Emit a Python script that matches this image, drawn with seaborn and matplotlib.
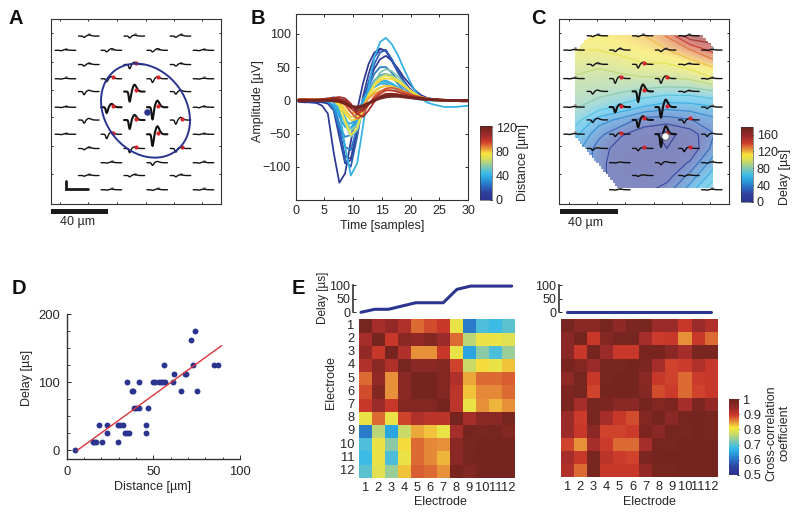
"""
Spike waveform footprint, delay map and cross-correlation panels (A-E)
"""
import numpy as np
import matplotlib; matplotlib.use("Agg")
import matplotlib.pyplot as plt
from matplotlib.cm import ScalarMappable
from matplotlib.colors import LinearSegmentedColormap, Normalize
from matplotlib.patches import Ellipse, Polygon
import seaborn as sns

W, H = 800, 513
INK = "#262626"
NAVY = "#2b3590"

# ---- electrode layout (um), row by row
elec_x = [27.7, 59.8, 92.3,
          11.25, 43.6, 75.9, 108.5,
          27.7, 59.8, 92.3,
          11.25, 43.6, 75.9, 108.5,
          27.7, 59.8, 92.3,
          11.25, 43.6, 75.9, 108.5,
          27.7, 59.8, 92.3,
          11.25, 43.6, 75.9, 108.5,
          27.7, 59.8, 92.3,
          43.6, 75.9, 108.5,
          27.7, 59.8, 92.3,
          43.6, 75.9, 108.5]
elec_y = [12, 12, 12,
          22, 22, 22, 22,
          32, 32, 32,
          42, 42, 42, 42,
          51, 51, 51,
          62, 62, 62, 62,
          71, 71, 71,
          81, 81, 81, 81,
          91, 91, 91,
          101, 101, 101,
          110, 110, 110,
          120, 120, 120]
elec_red = [0, 0, 0,
            0, 0, 0, 0,
            0, 1, 0,
            0, 1, 1, 0,
            0, 1, 0,
            0, 1, 1, 0,
            0, 1, 1,
            0, 1, 1, 0,
            0, 1, 1,
            0, 0, 0,
            0, 0, 0,
            0, 0, 0]

# ---- panel A amplitudes (uV)
a_trough = [12, 18, 12, 4, 15, 15, 4, 15, 40, 15, 3, 28, 35, 3, 30, 95, 25, 3, 55, 115, 5,
            30, 85, 40, 3, 42, 110, 3, 12, 40, 35, 3, 25, 4, 6, 12, 12, 3, 6, 3]
a_peak = [10, 8, 12, 8, 15, 15, 8, 12, 22, 12, 5, 22, 18, 5, 12, 65, 12, 6, 32, 62, 8,
          15, 48, 25, 5, 20, 75, 5, 12, 15, 10, 8, 12, 8, 8, 10, 8, 6, 8, 6]

# ---- panel C amplitudes (uV), nan = no trace drawn
c_trough = [8, 8, 6, 3, 15, 15, 3, 15, 35, 6, 3, 45, 45, 5, 25, 100, 8, 3, 50, 100, 15,
            25, 70, 30, 3, 22, 120, 22, 18, 22, 30, 3, 20, 5, np.nan, 8, 8, 3, np.nan, 3]
c_peak = [8, 6, 8, 5, 15, 12, 6, 12, 18, 8, 5, 20, 25, 6, 12, 65, 8, 5, 25, 70, 8,
          15, 35, 12, 5, 12, 75, 8, 5, 8, 12, 6, 10, 8, np.nan, 6, 6, 6, np.nan, 6]

trough_shape = [0, 0, 0, 0, 0, .03, .25, .8, 1, .75, .3, .03, 0, 0, 0,
                0, 0, 0, 0, 0, 0, 0, 0, 0, 0, 0, 0, 0, 0, 0]
peak_shape = [0, 0, 0, 0, 0, 0, 0, 0, 0, 0, 0, .15, .45, .75, .95,
              1, .9, .72, .52, .35, .22, .12, .06, .03, .01, 0, 0, 0, 0, 0]
sample_t = [.5, 1.5, 2.6, 3.6, 4.6, 5.6, 6.6, 7.6, 8.6, 9.6, 10.7, 11.7, 12.7, 13.7, 14.7,
            15.7, 16.7, 17.8, 18.8, 19.8, 20.8, 21.8, 22.8, 23.9, 24.9, 25.9, 26.9, 27.9, 28.9, 30]

# ---- panel B waveforms, (distance um, samples uV)
b_curves = [
    (3, [-2, -3, -3, -4, -8, -20, -78, -124, -110, -62, -15, 25, 55, 72, 78, 74, 60, 42, 28, 18, 10, 5, 2, 0, 0, 0, 0, 0, 0, 0]),
    (12, [-2, -2, -3, -3, -3, -5, -15, -55, -95, -90, -45, 5, 40, 65, 77, 75, 62, 45, 30, 18, 10, 5, 2, 0, 0, -1, -1, -1, 0, 0]),
    (6, [0, -1, -1, -2, -2, -3, -10, -45, -85, -88, -45, 0, 25, 48, 62, 67, 60, 48, 35, 25, 15, 8, 4, 2, 1, 0, 0, 0, 0, 0]),
    (20, [1, 0, 0, -1, -1, -2, -12, -45, -90, -100, -55, -5, 28, 55, 72, 76, 62, 44, 28, 16, 8, 3, 1, 0, 0, 0, 0, 0, 0, 0]),
    (26, [1, 0, 0, -1, -1, -2, -8, -35, -70, -75, -40, -5, 20, 40, 50, 50, 42, 30, 20, 12, 6, 3, 1, 0, 0, 0, 0, 0, 0, 0]),
    (30, [0, 0, 0, -1, -1, -2, -12, -40, -55, -52, -30, 0, 15, 30, 38, 40, 35, 25, 15, 9, 5, 2, 1, 0, 0, 0, 0, 0, 0, 0]),
    (40, [0, 0, -1, -1, -1, 2, 3, -15, -70, -113, -95, -40, 20, 65, 88, 94, 85, 68, 48, 30, 14, 3, -3, -6, -8, -10, -10, -10, -9, -8]),
    (36, [0, 0, 0, 0, 0, -1, -8, -25, -40, -42, -25, 2, 15, 24, 28, 28, 24, 18, 12, 7, 4, 2, 1, 0, 0, 0, 0, 0, 0, 0]),
    (38, [0, 0, 0, 0, 1, 3, -3, -20, -32, -35, -25, -3, 12, 20, 25, 25, 20, 14, 9, 5, 2, 1, 0, 0, 0, 0, 0, 0, 0, 0]),
    (42, [1, 1, 0, 0, 1, 2, 5, -5, -25, -45, -32, -8, 10, 22, 30, 30, 26, 20, 14, 8, 4, 2, 0, 0, 0, 0, 0, 0, 0, 0]),
    (54, [1, 1, 0, 0, 0, 1, 0, -10, -35, -55, -45, -15, 10, 28, 42, 47, 44, 36, 26, 16, 9, 4, 2, 0, -1, -1, -1, 0, 0, 0]),
    (58, [1, 1, 1, 0, 0, 1, 0, -8, -30, -45, -38, -12, 8, 24, 36, 40, 38, 31, 22, 14, 8, 4, 1, 0, -1, -1, 0, 0, 0, 0]),
    (70, [1, 1, 1, 1, 1, 1, 1, -4, -18, -30, -28, -10, 5, 15, 20, 22, 21, 17, 12, 8, 5, 2, 1, 0, 0, 0, 0, 0, 0, 0]),
    (76, [2, 2, 1, 1, 1, 1, 0, -8, -32, -52, -42, -15, 8, 24, 33, 37, 35, 30, 23, 16, 10, 5, 3, 1, 0, 0, 0, 0, 0, 0]),
    (78, [2, 2, 1, 1, 1, 1, 0, -5, -20, -30, -28, -10, 8, 22, 30, 33, 32, 28, 22, 15, 9, 5, 3, 1, 0, 0, 0, 0, 0, 0]),
    (80, [2, 2, 2, 1, 1, 1, 1, -3, -14, -25, -24, -10, 4, 13, 19, 22, 21, 18, 14, 10, 7, 4, 2, 1, 0, 0, 0, 0, 0, 0]),
    (84, [2, 2, 2, 2, 1, 1, 1, 0, -8, -18, -20, -8, 3, 10, 14, 16, 15, 13, 10, 8, 5, 3, 2, 1, 0, 0, 0, 0, 0, 0]),
    (92, [2, 2, 1, 1, 1, 1, 1, 0, -5, -18, -28, -22, -6, 6, 13, 18, 19, 17, 13, 10, 7, 5, 3, 2, 1, 1, 0, 0, 0, 0]),
    (100, [1, 1, 1, 1, 1, 1, 2, 2, -3, -12, -20, -16, -5, 3, 10, 15, 15, 13, 10, 8, 6, 4, 2, 1, 1, 0, 0, 0, 0, 0]),
    (105, [1, 1, 1, 1, 2, 3, 4, 5, 3, -5, -20, -25, -15, -2, 6, 10, 10, 9, 7, 5, 4, 3, 2, 1, 1, 1, 0, 0, 0, 0]),
    (112, [1, 1, 1, 1, 1, 1, 2, 2, 0, -8, -16, -14, -6, 1, 6, 9, 10, 9, 7, 5, 4, 3, 2, 1, 1, 0, 0, 0, 0, 0]),
    (118, [0, 0, 0, 0, 0, 0, 0, -1, -4, -9, -12, -10, -5, 0, 4, 7, 8, 7, 6, 5, 4, 3, 2, 1, 1, 0, 0, 0, 0, 0]),
    (120, [-1, -1, 0, 0, 0, 0, -1, -2, -5, -9, -10, -8, -4, 0, 3, 5, 6, 6, 5, 4, 3, 2, 1, 1, 0, 0, 0, 0, -1, -1]),
]

# ---- panel C delay map (us), on electrode columns and rows
map_x = [11.25, 27.7, 43.6, 59.8, 75.9, 92.3, 108.5]
map_y = [12, 22, 32, 42, 51, 62, 71, 81, 91, 101, 110, 120]
delay_map = [[112, 113, 116, 118, 132, 165, 165],
             [106, 106, 110, 114, 118, 130, 148],
             [98, 95, 100, 105, 105, 112, 122],
             [92, 90, 90, 92, 92, 95, 105],
             [85, 85, 82, 78, 75, 75, 80],
             [82, 75, 65, 55, 48, 50, 55],
             [75, 50, 40, 25, 25, 30, 40],
             [60, 35, 20, 12, 2, 12, 30],
             [50, 25, 12, 8, 6, 8, 35],
             [50, 22, 12, 8, 8, 20, 50],
             [50, 22, 12, 8, 12, 35, 62],
             [50, 25, 14, 14, 25, 50, 80]]
map_corners = [(11.25, 22), (21, 11.5), (100, 11.5), (108.7, 21), (108.7, 119), (42.5, 119), (11.25, 82)]

# ---- panel D
d_dist = [5, 15, 16, 17, 20.5, 29.5, 23, 33.5, 35, 36, 46, 18.5, 23, 29.5, 30.5, 32.5, 45.5,
          39, 40, 42, 47, 37.5, 38.5, 66, 75, 35, 42, 50, 51, 53, 54.5, 55.5, 56.5, 61.5,
          62, 68, 69, 56, 73, 85, 87.5, 71.5, 74]
d_delay = [0, 12.5, 12.5, 12.5, 12.5, 12.5, 25, 25, 25, 25, 25, 37.5, 37.5, 37.5, 37.5, 37.5, 37.5,
           62.5, 62.5, 62.5, 62.5, 87.5, 87.5, 87.5, 87.5, 100, 100, 100, 100, 100, 100, 100, 100, 100,
           112.5, 112.5, 112.5, 125, 125, 125, 125, 162.5, 175]
fit_x = [6, 89.4]
fit_y = [0, 154]

# ---- panel E
electrodes = list(range(1, 13))
e_delay_left = [0, 11, 11, 23, 35, 35, 35, 84, 96, 96, 96, 96]
e_delay_right = [0] * 12
corr_left = [
    [.99, .93, .95, .92, .87, .885, .90, .80, .61, .69, .68, .70],
    [.93, 1, .90, .96, .95, .97, .94, .87, .76, .80, .80, .79],
    [.95, .90, 1, .92, .85, .85, .90, .80, .65, .73, .69, .74],
    [.92, .96, .92, .99, .96, .96, .97, .89, .77, .82, .80, .83],
    [.87, .95, .85, .96, 1, 1, .97, .92, .84, .87, .87, .875],
    [.885, .97, .85, .96, 1, 1, .97, .91, .83, .855, .855, .87],
    [.90, .94, .90, .97, .97, .97, 1, .91, .80, .85, .835, .85],
    [.80, .87, .80, .89, .92, .91, .91, 1, .93, .96, .96, .985],
    [.61, .76, .65, .77, .84, .83, .80, .93, 1, .98, .99, .97],
    [.69, .80, .73, .82, .87, .855, .85, .96, .98, 1, 1, 1],
    [.68, .80, .69, .80, .87, .855, .835, .96, .99, 1, 1, 1],
    [.70, .79, .74, .83, .875, .87, .85, .985, .97, 1, 1, 1],
]
corr_right = [
    [.99, .96, .96, .985, .955, .975, .98, .94, .94, .90, .94, .92],
    [.96, 1, .90, .97, .99, .99, .93, .895, .90, .85, .90, .87],
    [.96, .90, 1, .94, .90, .90, .985, .985, .96, .93, .98, .98],
    [.985, .97, .94, .99, .98, 1, .975, .93, .89, .895, .92, .90],
    [.955, .99, .90, .98, 1, 1, .96, .90, .89, .87, .895, .90],
    [.975, .99, .89, 1, 1, 1, .965, .885, .895, .87, .89, .90],
    [.98, .93, .98, .975, .96, .96, 1, .97, .975, .93, .975, .95],
    [.94, .895, .985, .93, .90, .885, .97, 1, .96, .985, 1, .98],
    [.94, .90, .96, .89, .89, .895, .975, .96, 1, .98, 1, .98],
    [.89, .85, .93, .895, .87, .87, .93, .985, .98, 1, 1, 1],
    [.93, .90, .98, .91, .895, .89, .975, 1, 1, 1, 1, 1],
    [.92, .87, .98, .90, .90, .90, .95, .98, .98, 1, 1, 1],
]

sns.set_theme(style="ticks", rc={"axes.edgecolor": "#333333", "axes.linewidth": 0.8,
                                 "xtick.direction": "in", "ytick.direction": "in",
                                 "xtick.color": INK, "ytick.color": INK,
                                 "text.color": INK, "axes.labelcolor": INK,
                                 "xtick.major.size": 2.5, "ytick.major.size": 2.5,
                                 "xtick.major.width": 0.7, "ytick.major.width": 0.7,
                                 "xtick.labelsize": 9, "ytick.labelsize": 9})
plt.rcParams["font.family"] = ["Liberation Sans", "DejaVu Sans"]

jet = LinearSegmentedColormap.from_list("print_jet", [
    (0, "#2b3590"), (.1, "#2f3f9c"), (.2, "#2a70c4"), (.3, "#2ba6e0"), (.36, "#3cbbe8"), (.46, "#8ccaa6"),
    (.56, "#d8de58"), (.63, "#f7e63c"), (.7, "#e8923a"), (.79, "#cc3a2a"), (.88, "#9c2a2a"), (.96, "#7a2620"),
    (1, "#752420")])

fig = plt.figure(figsize=(W / 100, H / 100), dpi=100, facecolor="white")


def px_axes(left, top, right, bottom):
    return fig.add_axes([left / W, 1 - bottom / H, (right - left) / W, (bottom - top) / H])


def px_text(x, y, s, **kw):
    kw.setdefault("fontsize", 9)
    kw.setdefault("ha", "center")
    kw.setdefault("va", "center")
    fig.text(x / W, 1 - y / H, s, **kw)


def px_bar(left, top, right, bottom):
    fig.patches.append(plt.Rectangle((left / W, 1 - bottom / H), (right - left) / W, (bottom - top) / H,
                                     transform=fig.transFigure, color="#1a1a1a", lw=0))


def draw_traces(ax, troughs, peaks):
    t = np.array(sample_t)
    for x, y, tr, pk, red in zip(elec_x, elec_y, troughs, peaks, elec_red):
        if np.isnan(tr):
            continue
        v = -tr * np.array(trough_shape) + pk * np.array(peak_shape)
        ax.plot(x + (t - 17) * 0.49, y - v * 0.075, color="#111111", lw=1.0 if tr < 50 else 1.5, zorder=3)
        if red:
            ax.scatter([x], [y - 1], s=9, color="#d8232a", lw=0, zorder=4)
        elif tr < 20:
            ax.scatter([x - 0.5], [y - 1.2], s=5, color="#9a9a9a", lw=0, zorder=2)


def probe_axes(ax):
    ax.set_xlim(0, 120)
    ax.set_ylim(130, 0)
    ax.set_xticks([6.6, 26.5, 46.4, 66.8, 86.7, 106.6])
    ax.set_yticks([10, 30, 50, 69, 89, 109])
    ax.tick_params(top=True, right=True, labelbottom=False, labelleft=False, length=1.5)


def side_colorbar(rect, vmax, ticks, labels):
    cax = px_axes(*rect)
    cb = fig.colorbar(ScalarMappable(Normalize(0, vmax), jet), cax=cax)
    cb.set_ticks(ticks, labels=labels)
    cb.ax.tick_params(length=1.5, pad=3, labelsize=9)
    cb.outline.set_linewidth(0.4)
    return cb


def stair_polygon(corners, step=1.6):
    out = []
    for (x0, y0), (x1, y1) in zip(corners, corners[1:] + corners[:1]):
        if x0 == x1 or y0 == y1:
            out.append((x0, y0))
            continue
        n = max(int(abs(x1 - x0) / step), 1)
        xs = np.linspace(x0, x1, n + 1)
        ys = np.linspace(y0, y1, n + 1)
        for i in range(n):
            out += [(xs[i], ys[i]), (xs[i + 1], ys[i])]
    return out


# A
ax_a = px_axes(50.7, 19, 221, 204)
probe_axes(ax_a)
draw_traces(ax_a, a_trough, a_peak)
ax_a.add_patch(Ellipse((66.8, 64.4), 71, 57, angle=52, fill=False, ec=NAVY, lw=1.4, zorder=5))
ax_a.scatter([68], [65.5], s=22, color=NAVY, lw=0, zorder=5)
ax_a.plot([10.5, 10.5, 26.5], [113.5, 119.5, 119.5], color="#1a1a1a", lw=2, solid_joinstyle="miter", zorder=5)
px_bar(51, 209, 108.3, 214)
px_text(77, 222.5, "40 µm")

# B
ax_b = px_axes(295.7, 14, 468, 200)
for dist, samples in b_curves:
    sns.lineplot(x=sample_t, y=samples, color=jet(dist / 122), lw=1.9 if dist > 115 else 1.25, ax=ax_b,
                 legend=False, errorbar=None, estimator=None)
ax_b.set_xlim(0, 30)
ax_b.set_ylim(-150, 130)
ax_b.set_xticks(range(0, 31, 5))
ax_b.set_yticks([-100, -50, 0, 50, 100])
ax_b.set_yticklabels(["−100", "−50", "0", "50", "100"])
ax_b.tick_params(top=True, right=True)
px_text(382, 226.5, "Time [samples]", fontsize=9)
px_text(258, 101, "Amplitude [µV]", rotation=90)
side_colorbar((480, 126, 491.7, 200), 122, [0, 40, 80, 120], ["0", "40", "80", "120"])
px_text(523, 163, "Distance [µm]", rotation=90)

# C
ax_c = px_axes(559.3, 18.7, 729.3, 204)
dx = map_x[1] - map_x[0]
dy = map_y[1] - map_y[0]
im = ax_c.imshow(delay_map, cmap=jet, vmin=0, vmax=178, alpha=0.6, aspect="auto", interpolation="bicubic",
                 extent=[map_x[0] - dx / 2, map_x[-1] + dx / 2, map_y[-1] + dy / 2, map_y[0] - dy / 2], zorder=1)
clip = Polygon(stair_polygon(map_corners), closed=True, transform=ax_c.transData, fc="none", ec="none")
ax_c.add_patch(clip)
im.set_clip_path(clip)
cs = ax_c.contour(map_x, map_y, delay_map, levels=np.arange(6, 178, 12.5), cmap=jet, vmin=0, vmax=178,
                  linewidths=0.85, alpha=0.85, zorder=2)
cs.set_clip_path(clip)
probe_axes(ax_c)
draw_traces(ax_c, c_trough, c_peak)
ax_c.scatter([74.6], [82.4], s=28, color="white", ec="#333333", lw=0.4, zorder=6)
px_bar(560.3, 209, 617.5, 214)
px_text(585, 223, "40 µm")
side_colorbar((740.7, 127, 752.7, 202), 178, [0, 40, 80, 120, 160], ["0", "40", "80", "120", "160"])
px_text(785, 177, "Delay [µs]", rotation=90)

# D
ax_d = px_axes(66.7, 314.3, 240, 459.3)
sns.scatterplot(x=d_dist, y=d_delay, color=NAVY, s=18, lw=0, ax=ax_d, clip_on=False, zorder=3)
sns.lineplot(x=fit_x, y=fit_y, color="#d8343a", lw=1, ax=ax_d, zorder=4)
ax_d.set_xlim(0, 100)
ax_d.set_ylim(-13, 200)
ax_d.set_xticks([0, 50, 100])
ax_d.set_xticks(range(0, 101, 10), minor=True)
ax_d.set_yticks([0, 100, 200])
ax_d.set_yticks(range(0, 201, 25), minor=True)
ax_d.tick_params(which="minor", direction="in", length=1.8, width=0.6)
ax_d.tick_params(which="major", length=2.8, pad=5, labelsize=9.4)
sns.despine(ax=ax_d)
ax_d.spines["left"].set_linewidth(1)
ax_d.spines["bottom"].set_linewidth(1)
px_text(153, 486.7, "Distance [µm]")
px_text(27, 378, "Delay [µs]", rotation=90)

# E
cax_e = px_axes(729, 399.3, 739, 474.7)
ax_e1 = px_axes(358.7, 319.3, 515, 477.7)
ax_e2 = px_axes(560.7, 319, 717.7, 477.3)
sns.heatmap(corr_left, cmap=jet, vmin=0.5, vmax=1, ax=ax_e1, cbar=False,
            xticklabels=electrodes, yticklabels=electrodes)
sns.heatmap(corr_right, cmap=jet, vmin=0.5, vmax=1, ax=ax_e2, cbar_ax=cax_e,
            xticklabels=electrodes, yticklabels=False)
ax_e1.tick_params(length=0, labelsize=9.3, pad=3, labelrotation=0)
ax_e2.tick_params(length=0, labelsize=9.3, pad=3, labelrotation=0)
cax_e.set_yticks([.5, .6, .7, .8, .9, 1], labels=["0.5", "0.6", "0.7", "0.8", "0.9", "1"])
cax_e.tick_params(length=1.5, pad=3, labelsize=9.3)
px_text(330.7, 383, "Electrode", rotation=90)
px_text(440, 501.7, "Electrode")
px_text(649, 501.7, "Electrode")
px_text(778, 433, "Cross-correlation\ncoefficient", rotation=90, linespacing=1.1)
px_text(322.7, 298, "Delay [µs]", rotation=90, fontsize=8.5)

for rect, vals, xlim in [((353.3, 285, 515, 312.3), e_delay_left, (0.44, 12.24)),
                         ((559.3, 285, 717.7, 312.3), e_delay_right, (0.435, 12.51))]:
    ax_top = px_axes(*rect)
    sns.lineplot(x=electrodes, y=vals, color=NAVY, lw=2.2, ax=ax_top, clip_on=False)
    ax_top.set_xlim(*xlim)
    ax_top.set_ylim(0, 100)
    ax_top.set_yticks([0, 50, 100])
    ax_top.tick_params(pad=2, length=2.5, labelsize=9)
    ax_top.spines["left"].set_linewidth(1.2)
    ax_top.xaxis.set_visible(False)
    sns.despine(ax=ax_top, bottom=True)
    ax_top.set_xlabel("")

# panel letters
for x, y, s in [(16, 19, "A"), (258, 18, "B"), (538, 19, "C"), (19, 289, "D"), (298, 289, "E")]:
    px_text(x, y, s, fontsize=14.5, fontweight="bold", color="#111111")

fig.savefig("out.png", dpi=100)
plt.close("all")
